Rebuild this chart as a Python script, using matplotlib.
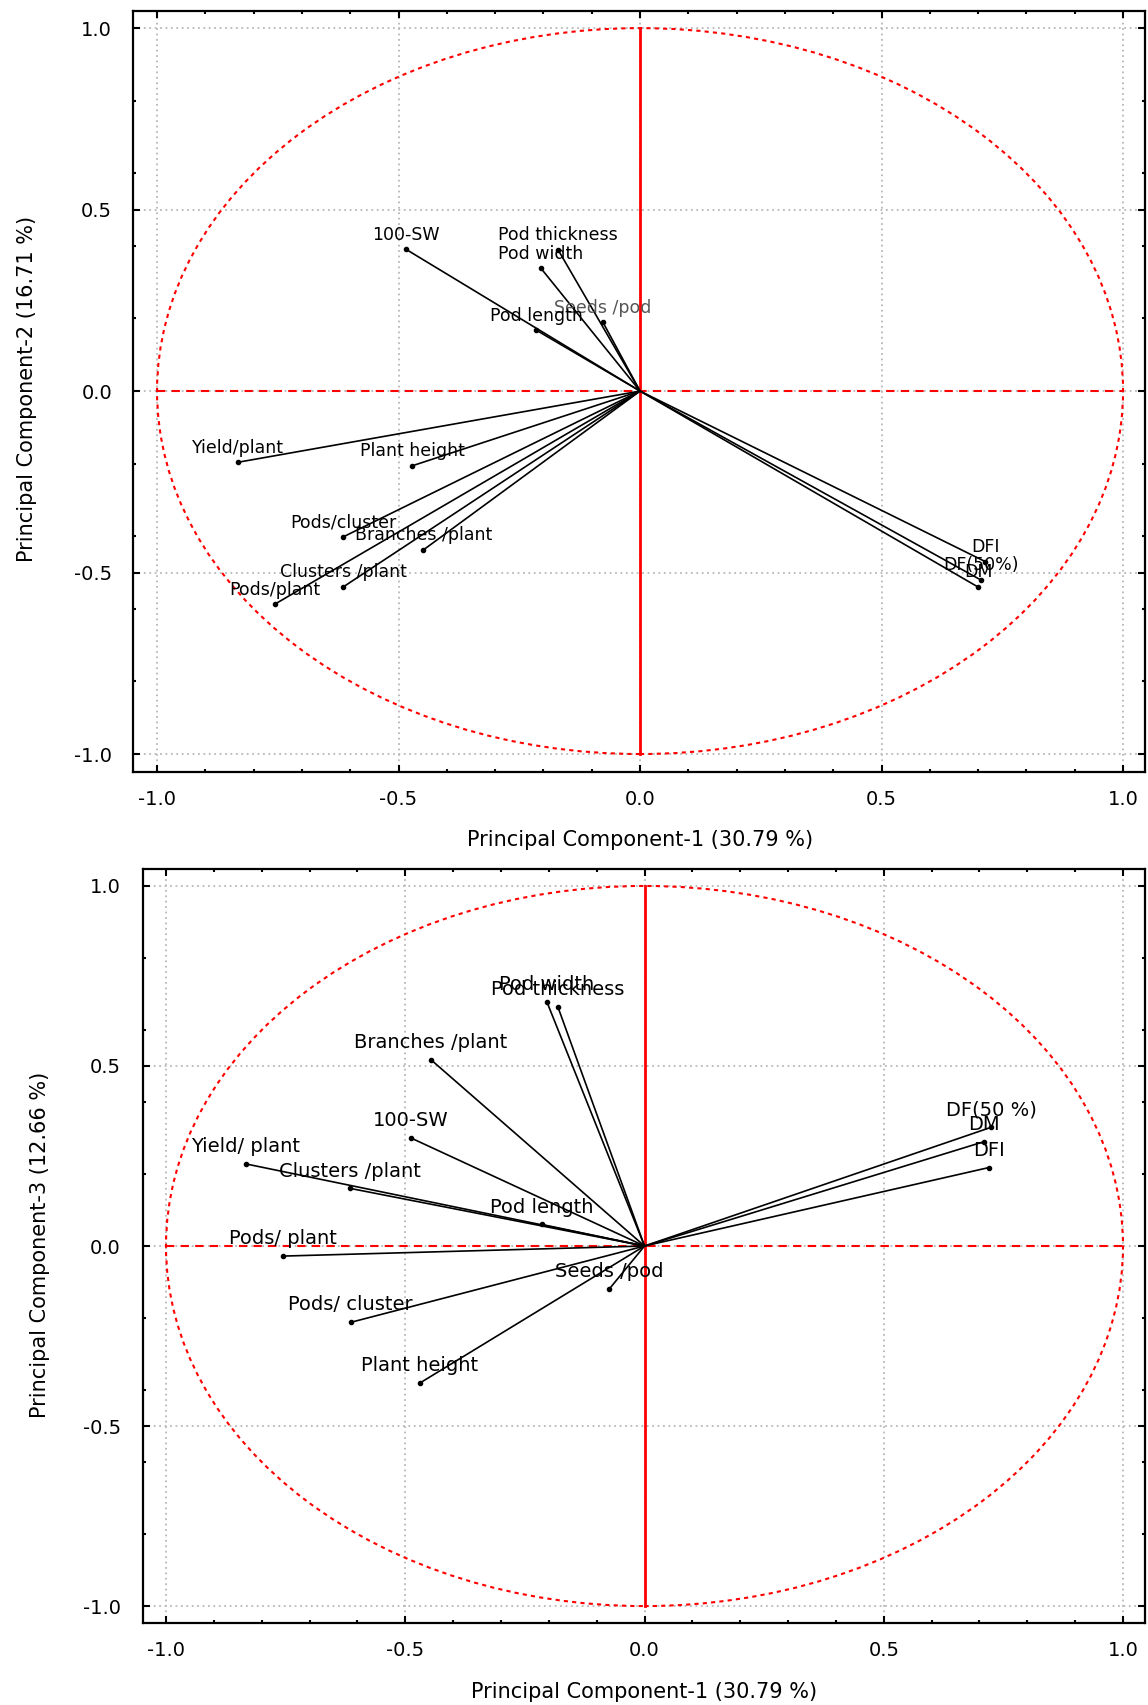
import matplotlib
matplotlib.use('Agg')
import matplotlib.pyplot as plt
from matplotlib.patches import Circle
from matplotlib.ticker import MultipleLocator

# Loadings
traits_top = ['100-SW', 'Pod thickness', 'Pod width', 'Seeds /pod', 'Pod length',
              'Yield/plant', 'Plant height', 'Pods/cluster', 'Branches /plant',
              'Clusters /plant', 'Pods/plant', 'DFI', 'DF(50%)', 'DM']
pc1_top = [-0.485, -0.17, -0.205, -0.077, -0.215, -0.832, -0.472, -0.615, -0.449,
           -0.615, -0.756, 0.715, 0.705, 0.70]
pc2_top = [0.391, 0.39, 0.338, 0.19, 0.168, -0.196, -0.206, -0.402, -0.438,
           -0.54, -0.587, -0.47, -0.52, -0.54]

traits_bot = ['100-SW', 'Pod thickness', 'Pod width', 'Seeds /pod', 'Pod length',
              'Yield/ plant', 'Plant height', 'Pods/ cluster', 'Branches /plant',
              'Clusters /plant', 'Pods/ plant', 'DFI', 'DF(50 %)', 'DM']
pc1_bot = [-0.488, -0.181, -0.204, -0.074, -0.215, -0.833, -0.47, -0.614, -0.446,
           -0.615, -0.756, 0.72, 0.725, 0.71]
pc3_bot = [0.30, 0.664, 0.678, -0.12, 0.06, 0.228, -0.381, -0.212, 0.517,
           0.16, -0.028, 0.218, 0.33, 0.29]

ticks = [-1.0, -0.5, 0.0, 0.5, 1.0]
tick_labels = ['-1.0', '-0.5', '0.0', '0.5', '1.0']

plt.rcParams['font.family'] = 'DejaVu Sans'

fig = plt.figure(figsize=(11.48, 17.05), dpi=100)


def circle_plot(ax, xs, ys, names, fsize, lift, xlim, ylim, ypad, grey=()):
    ax.set_xlim(*xlim)
    ax.set_ylim(*ylim)
    ax.set_xticks(ticks)
    ax.set_xticklabels(tick_labels)
    ax.set_yticks(ticks)
    ax.set_yticklabels(tick_labels)
    ax.xaxis.set_minor_locator(MultipleLocator(0.1))
    ax.yaxis.set_minor_locator(MultipleLocator(0.2))
    ax.tick_params(which='both', direction='in', top=True, right=True, width=1.5)
    ax.tick_params(which='major', length=5, labelsize=14)
    ax.tick_params(which='minor', length=2.5)
    ax.tick_params(axis='x', pad=13)
    ax.tick_params(axis='y', pad=ypad)
    for s in ax.spines.values():
        s.set_linewidth(1.6)
    ax.grid(True, which='major', color='#b8b8b8', linestyle=(0, (1, 2)), linewidth=1.3)

    # red unit circle and axes
    ax.add_patch(Circle((0, 0), 1, fill=False, edgecolor='red',
                        linestyle=(0, (2, 2)), linewidth=1.5, zorder=2))
    ax.plot([0, 0], [-1, 1], color='red', lw=2, zorder=2)
    ax.plot([-1, 1], [0, 0], color='red', lw=1.5, ls=(0, (4, 3)), zorder=2)

    for x, y, n in zip(xs, ys, names):
        ax.plot([0, x], [0, y], color='black', lw=1.2, zorder=3)
        ax.plot(x, y, 'o', color='black', ms=3, zorder=4)
        col = '#555555' if n in grey else 'black'
        ax.annotate(n, (x, y), xytext=(0, lift), textcoords='offset points',
                    ha='center', va='center', fontsize=fsize, color=col, zorder=5)


ax1 = fig.add_axes([0.1159, 0.5472, 0.8815, 0.4463])
circle_plot(ax1, pc1_top, pc2_top, traits_top, 12.5, 10.5,
            (-1.0497, 1.0455), (-1.0496, 1.047), 15, grey=('Seeds /pod',))

ax2 = fig.add_axes([0.1246, 0.0481, 0.8728, 0.4422])
circle_plot(ax2, pc1_bot, pc3_bot, traits_bot, 14, 12.5,
            (-1.048, 1.046), (-1.047, 1.047), 16)

# axis titles
fig.text(0.5575, 0.5072, 'Principal Component-1 (30.79 %)', ha='center', va='center', fontsize=15)
fig.text(0.0235, 0.7718, 'Principal Component-2 (16.71 %)', ha='center', va='center',
         rotation=90, fontsize=15)
fig.text(0.561, 0.0078, 'Principal Component-1 (30.79 %)', ha='center', va='center', fontsize=15)
fig.text(0.0348, 0.2698, 'Principal Component-3 (12.66 %)', ha='center', va='center',
         rotation=90, fontsize=15)

plt.savefig('out.png', dpi=100)
